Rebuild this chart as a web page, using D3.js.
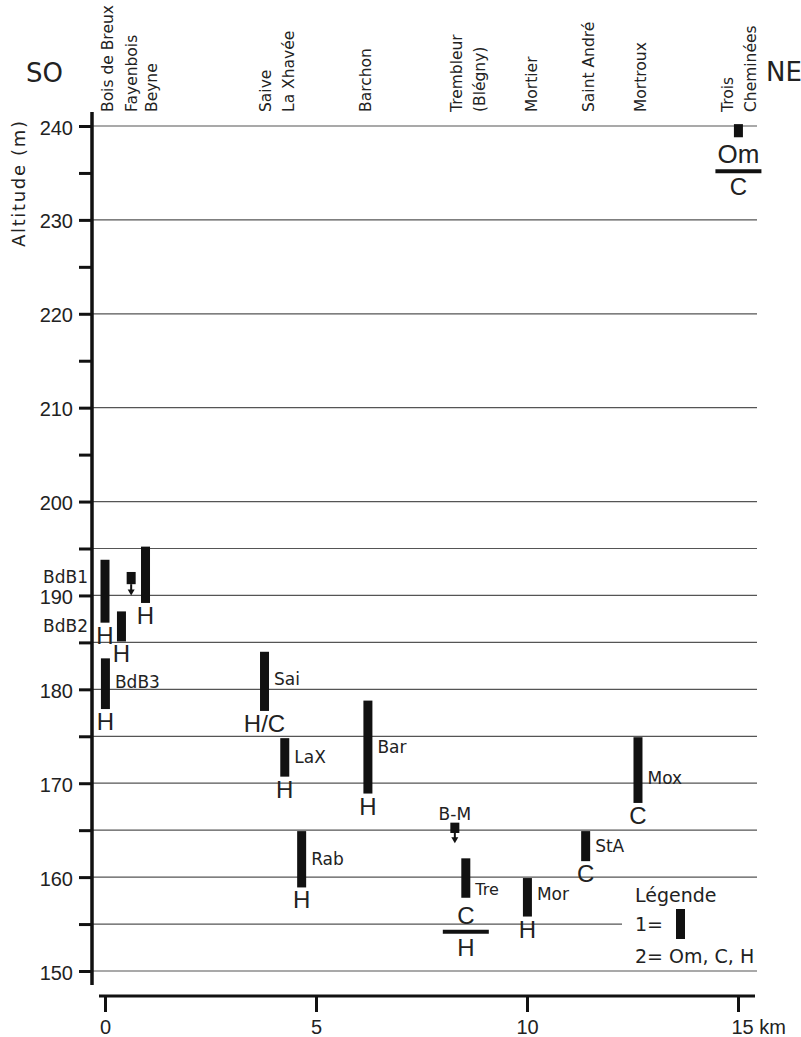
<!DOCTYPE html>
<html>
<head>
<meta charset="utf-8">
<script src="https://cdn.jsdelivr.net/npm/d3@7"></script>
<style>
body { margin: 0; background: #fff; }
text { fill: #222; }
.name { font-family: "DejaVu Sans", sans-serif; font-size: 15.5px; }
.code { font-family: "DejaVu Sans", sans-serif; font-size: 17px; }
.unit { font-family: "Liberation Sans", Arial, sans-serif; font-size: 24px; }
.axis text { font-family: "Liberation Sans", Arial, sans-serif; font-size: 20px; fill: #222; }
</style>
</head>
<body>
<script>
var width = 801;
var height = 1037;

// localites (etiquettes du haut)
var stationNames = ["Bois de Breux", "Fayenbois", "Beyne", "Saive", "La Xhavée", "Barchon",
  "Trembleur", "(Blégny)", "Mortier", "Saint André", "Mortroux", "Trois", "Cheminées"];
var stationKm = [0.04, 0.62, 1.09, 3.79, 4.34, 6.16, 8.32, 8.86, 10.09, 11.45, 12.68, 14.74, 15.28];

// sites (barres)
var siteCodes  = ["BdB1", "BdB2", "BdB3", "", "Sai", "LaX", "Rab", "Bar", "Tre", "Mor", "StA", "Mox", ""];
var siteKm     = [0, 0.39, 0.01, 0.96, 3.78, 4.26, 4.66, 6.23, 8.55, 10.01, 11.39, 12.63, 15.01];
var siteTop    = [193.8, 188.3, 183.3, 195.2, 184.0, 174.8, 164.9, 178.8, 162.0, 159.9, 164.9, 174.9, 240.2];
var siteBottom = [187.1, 185.1, 177.9, 189.2, 177.7, 170.7, 158.9, 168.9, 157.8, 155.8, 161.7, 167.9, 238.8];
var siteUnit   = ["H", "H", "H", "H", "H/C", "H", "H", "H", "C", "H", "C", "C", "Om"];
var siteUnitBelow = ["", "", "", "", "", "", "", "", "H", "", "", "", "C"];

// sites ponctuels (fleche)
var arrowCodes = ["", "B-M"];
var arrowKm    = [0.62, 8.29];
var arrowTop   = [192.5, 165.8];
var arrowBox   = [191.2, 164.7];
var arrowTip   = [190.0, 163.6];

// axes
var gridAlt = [240, 230, 220, 210, 200, 195, 190, 185, 180, 175, 170, 165, 160, 155, 150];
var yTicks = [150, 155, 160, 165, 170, 175, 180, 185, 190, 195, 200, 205, 210, 215, 220, 225, 230, 235, 240];
var xTicks = [0, 5, 10, 15];

var svg = d3.select("body").append("svg")
  .attr("width", width)
  .attr("height", height)
  .style("display", "block");

var x = d3.scaleLinear().domain([0, 15]).range([105, 738]);
var y = d3.scaleLinear().domain([150, 240]).range([971, 126]);

var axisX = 92, axisY = 996;

// grille
svg.append("g")
  .selectAll("line")
  .data(gridAlt)
  .enter().append("line")
  .attr("x1", axisX)
  .attr("x2", function(d) { return d == 155 ? 622 : 757; })
  .attr("y1", function(d) { return y(d); })
  .attr("y2", function(d) { return y(d); })
  .attr("stroke", "#555")
  .attr("stroke-width", 1.2);

// axe vertical
var gy = svg.append("g")
  .attr("class", "axis")
  .attr("transform", "translate(" + axisX + ",0)")
  .call(d3.axisLeft(y)
    .tickValues(yTicks)
    .tickSize(13)
    .tickPadding(6)
    .tickFormat(function(d) { return d % 10 == 0 ? d : ""; }));
gy.select(".domain").remove();
gy.selectAll(".tick line").attr("stroke", "#111").attr("stroke-width", 3);
gy.selectAll(".tick text").attr("dy", "0.4em");
svg.append("line")
  .attr("x1", axisX).attr("x2", axisX)
  .attr("y1", y(240) - 14).attr("y2", y(150) + 14)
  .attr("stroke", "#111").attr("stroke-width", 3.5);

// axe horizontal
var gx = svg.append("g")
  .attr("class", "axis")
  .attr("transform", "translate(0," + axisY + ")")
  .call(d3.axisBottom(x)
    .tickValues(xTicks)
    .tickSize(16)
    .tickPadding(8)
    .tickFormat(function(d) { return d == 15 ? "15 km" : d; }));
gx.select(".domain").remove();
gx.selectAll(".tick line").attr("stroke", "#111").attr("stroke-width", 3);
gx.selectAll(".tick text")
  .filter(function(d) { return d == 15; })
  .attr("text-anchor", "start")
  .attr("dx", "-7");
svg.append("line")
  .attr("x1", x(0) - 6).attr("x2", 755)
  .attr("y1", axisY).attr("y2", axisY)
  .attr("stroke", "#111").attr("stroke-width", 3);

// titres
svg.append("text")
  .attr("transform", "translate(25,247) rotate(-90)")
  .attr("font-family", "DejaVu Sans")
  .attr("font-size", "18px")
  .attr("textLength", 126)
  .text("Altitude (m)");

svg.append("text").attr("x", 26).attr("y", 82)
  .attr("font-family", "DejaVu Sans").attr("font-size", "26px")
  .text("SO");
svg.append("text").attr("x", 766).attr("y", 81)
  .attr("font-family", "DejaVu Sans").attr("font-size", "26px")
  .text("NE");

// noms des localites
svg.append("g")
  .selectAll("text")
  .data(stationNames)
  .enter().append("text")
  .attr("class", "name")
  .attr("transform", function(d, i) { return "translate(" + (x(stationKm[i]) + 6) + ",112) rotate(-90)"; })
  .text(function(d) { return d; });

// barres
var barW = 9;
var sites = siteCodes.map(function(c, i) {
  return { code: c, km: siteKm[i], top: siteTop[i], bottom: siteBottom[i],
           unit: siteUnit[i], below: siteUnitBelow[i] };
});

svg.append("g")
  .selectAll("rect")
  .data(sites)
  .enter().append("rect")
  .attr("x", function(d) { return x(d.km) - barW / 2; })
  .attr("y", function(d) { return y(d.top); })
  .attr("width", barW)
  .attr("height", function(d) { return y(d.bottom) - y(d.top); })
  .attr("fill", "#111");

// codes des sites
var leftSide = { BdB1: true, BdB2: true };
var codeDy = { BdB1: -8, Tre: 17, Mox: 14, Mor: 3, BdB3: 4, Sai: 4 };
svg.append("g")
  .selectAll("text")
  .data(sites.filter(function(d) { return d.code != ""; }))
  .enter().append("text")
  .attr("class", "code")
  .style("font-size", function(d) { return d.code == "Tre" ? "16px" : null; })
  .attr("text-anchor", function(d) { return leftSide[d.code] ? "end" : "start"; })
  .attr("x", function(d) { return leftSide[d.code] ? axisX - 4 : x(d.km) + barW / 2 + 5; })
  .attr("y", function(d) {
    var mid = (y(d.top) + y(d.bottom)) / 2;
    return mid + (codeDy[d.code] != null ? codeDy[d.code] : 6);
  })
  .text(function(d) { return d.code; });

// unites sous les barres
sites.forEach(function(d) {
  var cx = x(d.km), b = y(d.bottom);
  if (d.below == "") {
    svg.append("text").attr("class", "unit")
      .attr("text-anchor", "middle")
      .attr("x", cx).attr("y", b + 21)
      .text(d.unit);
  } else {
    svg.append("text").attr("class", "unit")
      .attr("text-anchor", "middle")
      .style("font-size", d.unit == "Om" ? "26px" : "24px")
      .attr("x", cx).attr("y", b + 26)
      .text(d.unit);
    svg.append("line")
      .attr("x1", cx - 23).attr("x2", cx + 23)
      .attr("y1", b + 34).attr("y2", b + 34)
      .attr("stroke", "#111").attr("stroke-width", 4);
    svg.append("text").attr("class", "unit")
      .attr("text-anchor", "middle")
      .attr("x", cx).attr("y", b + 58)
      .text(d.below);
  }
});

// sites ponctuels avec fleche
arrowKm.forEach(function(km, i) {
  var cx = x(km);
  svg.append("rect")
    .attr("x", cx - barW / 2).attr("y", y(arrowTop[i]))
    .attr("width", barW).attr("height", y(arrowBox[i]) - y(arrowTop[i]))
    .attr("fill", "#111");
  svg.append("line")
    .attr("x1", cx).attr("x2", cx)
    .attr("y1", y(arrowBox[i])).attr("y2", y(arrowTip[i]) - 4)
    .attr("stroke", "#111").attr("stroke-width", 2);
  svg.append("path")
    .attr("d", "M" + (cx - 3.5) + "," + (y(arrowTip[i]) - 6) + "L" + (cx + 3.5) + "," + (y(arrowTip[i]) - 6) + "L" + cx + "," + y(arrowTip[i]) + "Z")
    .attr("fill", "#111");
  if (arrowCodes[i] != "") {
    svg.append("text").attr("class", "code")
      .attr("text-anchor", "middle")
      .attr("x", cx).attr("y", y(arrowTop[i]) - 3)
      .text(arrowCodes[i]);
  }
});

// legende
var leg = svg.append("g")
  .attr("font-family", "DejaVu Sans")
  .attr("font-size", "19px");
leg.append("text").attr("x", 635).attr("y", 902).text("Légende");
leg.append("text").attr("x", 635).attr("y", 931).text("1=");
leg.append("rect").attr("x", 676).attr("y", 909).attr("width", barW).attr("height", 30).attr("fill", "#111");
leg.append("text").attr("x", 635).attr("y", 963).text("2= Om, C, H");
</script>
</body>
</html>
